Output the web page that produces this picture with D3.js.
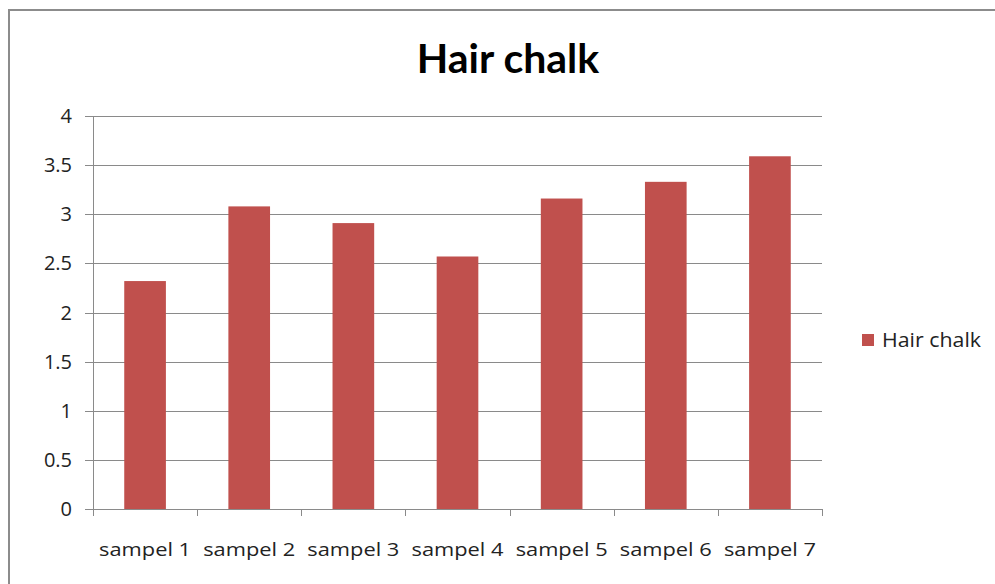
<!DOCTYPE html>
<html><head><meta charset="utf-8">
<script src="https://cdn.jsdelivr.net/npm/d3@7"></script>
<style>body{margin:0;background:#fff}svg{display:block}</style>
</head><body><svg id="c" width="995" height="584"></svg>
<script>
const categories = ["sampel 1","sampel 2","sampel 3","sampel 4","sampel 5","sampel 6","sampel 7"];
const values = [2.32, 3.08, 2.91, 2.57, 3.16, 3.33, 3.59];
const yTicks = [0,0.5,1,1.5,2,2.5,3,3.5,4];
const title = "Hair chalk";
const seriesName = "Hair chalk";

const svg = d3.select("#c");
const font = "'Open Sans', sans-serif";
const tfont = "Lato, sans-serif";
svg.append("rect").attr("x",9).attr("y",10).attr("width",1000).attr("height",600)
  .attr("fill","#fff").attr("stroke","#8c8c8c").attr("stroke-width",2);

const L=93,R=822,T=116,B=509;
const x = d3.scaleBand().domain(categories).range([L,R]).paddingInner(0.6).paddingOuter(0.3);
const xb = d3.scaleBand().domain(categories).range([L,R]);
const y = d3.scaleLinear().domain([0,4]).range([B,T]);

const g = svg.append("g");
g.selectAll("line.grid").data(yTicks).join("line")
  .attr("x1",85).attr("x2",R).attr("y1",d=>Math.round(y(d))+0.5).attr("y2",d=>Math.round(y(d))+0.5)
  .attr("stroke","#8a8a8a").attr("stroke-width",1);
g.append("line").attr("x1",L+0.5).attr("x2",L+0.5).attr("y1",T).attr("y2",B+7).attr("stroke","#8a8a8a");
const xt = categories.map(c=>xb(c)).concat([R]);
g.selectAll("line.xt").data(xt).join("line")
  .attr("x1",d=>Math.round(d)+0.5).attr("x2",d=>Math.round(d)+0.5).attr("y1",B).attr("y2",B+7).attr("stroke","#8a8a8a");

g.selectAll("rect.bar").data(values).join("rect")
  .attr("x",(d,i)=>x(categories[i])).attr("width",x.bandwidth())
  .attr("y",d=>y(d)).attr("height",d=>B-y(d)).attr("fill","#C0504D");

g.selectAll("text.yl").data(yTicks).join("text")
  .attr("x",72).attr("y",d=>y(d)).attr("dy","0.35em").attr("text-anchor","end")
  .attr("font-family",font).attr("font-size",20).attr("fill","#222").text(d=>d);
g.selectAll("text.xl").data(categories).join("text")
  .attr("x",d=>xb(d)+xb.bandwidth()/2).attr("y",556).attr("text-anchor","middle")
  .attr("font-family",font).attr("font-size",19).attr("textLength",92).attr("lengthAdjust","spacingAndGlyphs")
  .attr("fill","#222").text(d=>d);

svg.append("text").attr("x",508).attr("y",73).attr("text-anchor","middle")
  .attr("font-family",tfont).attr("font-weight","bold").attr("font-size",41).attr("fill","#000").text(title);

svg.append("rect").attr("x",862).attr("y",334).attr("width",12).attr("height",12).attr("fill","#C0504D");
svg.append("text").attr("x",882).attr("y",347).attr("font-family",font).attr("font-size",20)
  .attr("textLength",99).attr("lengthAdjust","spacingAndGlyphs").attr("fill","#222").text(seriesName);
</script></body></html>
